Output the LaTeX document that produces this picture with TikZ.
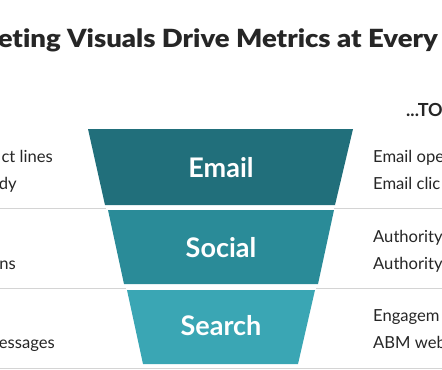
\documentclass[tikz,border=0pt]{standalone}
\usepackage{fontspec}
\setmainfont{Lato}[Ligatures=NoCommon]
\newfontfamily\titlefont{Lato Black}[Ligatures=NoCommon]
\usepackage{tikz}
\usetikzlibrary{positioning}
\definecolor{emailteal}{RGB}{33,111,123}
\definecolor{socialteal}{RGB}{42,139,152}
\definecolor{searchteal}{RGB}{58,166,180}
\definecolor{inkgray}{RGB}{38,38,38}
\definecolor{rulegray}{RGB}{212,212,212}

\begin{document}
\begin{tikzpicture}[
  x=1bp,y=-1bp,
  stage/.style={text=white,font=\fontsize{27bp}{29bp}\selectfont\bfseries,inner sep=0pt},
  note/.style={text=inkgray,font=\fontsize{16.6bp}{18bp}\selectfont,inner sep=0pt},
  head/.style={text=inkgray,font=\fontsize{25bp}{27bp}\titlefont,inner sep=0pt},
  rule/.style={draw=rulegray,line width=.9bp}]
\useasboundingbox[fill=white] (0,0) rectangle (442,369);
% separators
\draw[rule] (0,208)--(106,208) (334,208)--(442,208);
\draw[rule] (0,288)--(126,288) (316,288)--(442,288);
\draw[rule] (0,368)--(442,368);
% funnel bands
\fill[emailteal] (88,129)--(353,129)--(335,205)--(105,205)--cycle;
\fill[socialteal] (108,210)--(334,210)--(318,284)--(124,284)--cycle;
\fill[searchteal] (127,290)--(315,290)--(298,364)--(143,364)--cycle;
\node[stage] (email) at (221,168) {Email};
\node[stage] (social) at (221,248) {Social};
\node[stage] (search) at (221,326) {Search};
% heading
\node[head,xscale=1.1,anchor=base east] (title) at (438,47) {eting Visuals Drive Metrics at Every};
\node[head,font=\fontsize{18bp}{20bp}\selectfont\bfseries,anchor=base west] (to) at (406,116) {...TO};
% left column
\node[note,anchor=base east] (l1) at (53,162) {ct lines};
\node[note,anchor=base east] (l2) at (17,189) {dy};
\node[note,anchor=base east] (l3) at (16,269) {ns};
\node[note,anchor=base east] (l4) at (55,348) {essages};
% right column
\node[note,anchor=base west] (r1) at (373,162) {Email ope};
\node[note,anchor=base west] (r2) at (373,189) {Email clic};
\node[note,anchor=base west] (r3) at (373,242) {Authority};
\node[note,anchor=base west] (r4) at (373,269) {Authority};
\node[note,anchor=base west] (r5) at (373,321) {Engagem};
\node[note,anchor=base west] (r6) at (373,348) {ABM web};
\end{tikzpicture}
\end{document}
